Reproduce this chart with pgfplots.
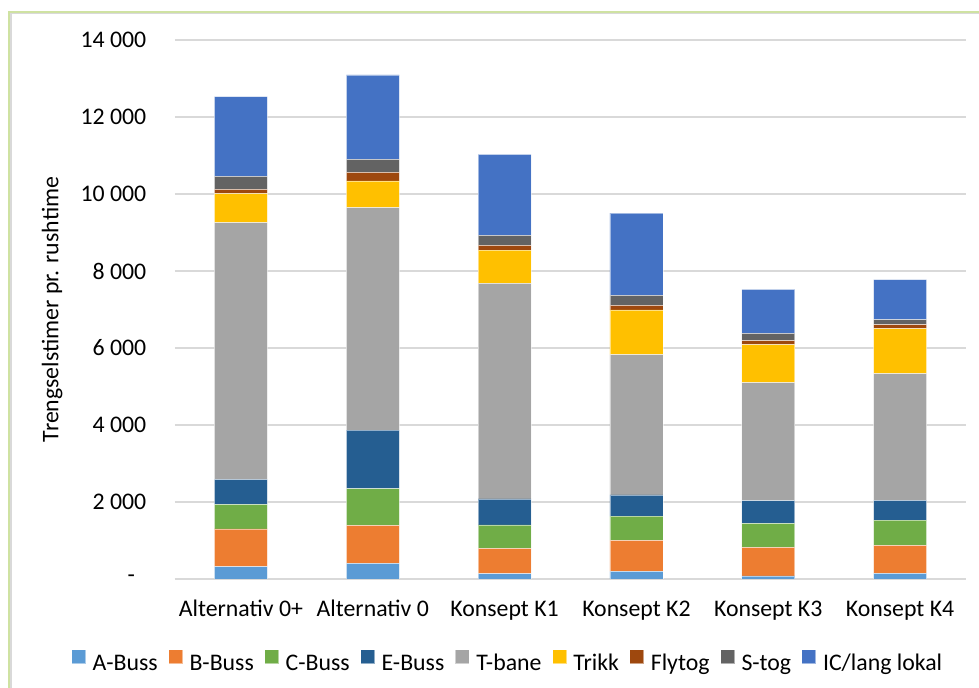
\documentclass[border=0pt]{standalone}
\usepackage{fontspec}
\setmainfont{Carlito}
\usepackage{pgfplots}
\usepackage{pgfplotstable}
\pgfplotsset{compat=1.18}
\definecolor{cA}{HTML}{5B9BD5}
\definecolor{cB}{HTML}{ED7D31}
\definecolor{cC}{HTML}{70AD47}
\definecolor{cE}{HTML}{255E91}
\definecolor{cT}{HTML}{A5A5A5}
\definecolor{cTr}{HTML}{FFC000}
\definecolor{cF}{HTML}{9E480E}
\definecolor{cS}{HTML}{636363}
\definecolor{cIC}{HTML}{4472C4}
\definecolor{gridgrey}{HTML}{D9D9D9}
\definecolor{bordergreen}{HTML}{CFE2A2}
\newcommand\cf{\fontsize{23.8bp}{28bp}\selectfont}

\pgfplotstableread{
x A B C E T Trikk Fly S IC
0 320 979 641 650 6665 753 114 338 2067
1 407 987 952 1524 5775 693 225 338 2190
2 138 659 606 675 5602 865 122 260 2103
3 200 805 631 546 3644 1161 121 260 2138
4 78 745 623 588 3065 987 104 191 1143
5 147 728 657 512 3289 1168 104 130 1040
}\datatable

\pgfplotsset{
  mybar/.style={fill=#1, draw=white, draw opacity=0.5, line width=0.6bp,
    legend image code/.code={\fill[#1] (0bp,0bp) rectangle (13bp,13bp);}},
}

\begin{document}
\begin{tikzpicture}[x=1bp,y=1bp]
\path[use as bounding box] (-175,-109) rectangle (804,579);
\fill[white] (-175,-109) rectangle (804,579);
\draw[color=gridgrey, line width=1.6bp] (-164.2,-120) -- (-164.2,565.3) -- (820,565.3);
\draw[color=bordergreen, line width=1.8bp] (-166,-120) -- (-166,567) -- (820,567);
\begin{axis}[
  at={(0,0)}, anchor=south west,
  scale only axis,
  width=791bp, height=539bp,
  ybar stacked,
  bar width=53bp,
  xmin=-0.5, xmax=5.5,
  ymin=0, ymax=14000,
  enlarge x limits=false,
  scaled y ticks=false,
  xtick=data,
  xticklabels={Alternativ 0+,Alternativ 0,Konsept K1,Konsept K2,Konsept K3,Konsept K4},
  ytick={0,2000,4000,6000,8000,10000,12000,14000},
  yticklabels={{-\kern11.5bp\relax},{2 000},{4 000},{6 000},{8 000},{10 000},{12 000},{14 000}},
  xticklabel style={font=\cf, anchor=base, inner sep=0pt, yshift=-38bp},
  yticklabel style={font=\cf, anchor=east, inner sep=0pt, xshift=-28.5bp},
  major tick length=0pt,
  axis x line*=bottom, axis y line*=left,
  y axis line style={draw=none},
  x axis line style={draw=gridgrey, line width=1.3bp, -},
  ymajorgrids,
  grid style={color=gridgrey, line width=1.3bp},
  ylabel={Trengselstimer pr. rushtime},
  ylabel style={font=\cf, at={(axis description cs:-0.1473,0.5)}, anchor=base},
  legend columns=-1,
  legend style={draw=none, fill=none, inner sep=0pt, outer sep=0pt, font=\cf,
    at={(axis description cs:0.4197,-0.15213)}, anchor=center,
    nodes={inner sep=0pt},
    /tikz/every odd column/.append style={column sep=7.3bp},
    /tikz/every even column/.append style={column sep=11bp}},
]
\addplot[mybar=cA] table[x=x,y=A] {\datatable};
\addplot[mybar=cB] table[x=x,y=B] {\datatable};
\addplot[mybar=cC] table[x=x,y=C] {\datatable};
\addplot[mybar=cE] table[x=x,y=E] {\datatable};
\addplot[mybar=cT] table[x=x,y=T] {\datatable};
\addplot[mybar=cTr] table[x=x,y=Trikk] {\datatable};
\addplot[mybar=cF] table[x=x,y=Fly] {\datatable};
\addplot[mybar=cS] table[x=x,y=S] {\datatable};
\addplot[mybar=cIC] table[x=x,y=IC] {\datatable};
\legend{A-Buss,B-Buss,C-Buss,E-Buss,T-bane,Trikk,Flytog,S-tog,IC/lang lokal}
\end{axis}
\end{tikzpicture}
\end{document}
